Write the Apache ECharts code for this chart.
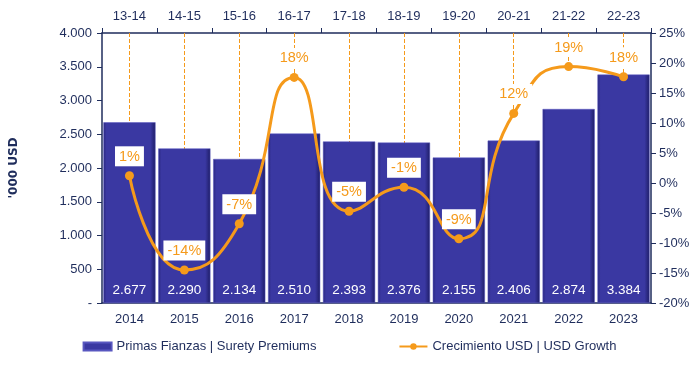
<!DOCTYPE html>
<html><head><meta charset="utf-8">
<script src="https://cdn.jsdelivr.net/npm/echarts@6/dist/echarts.min.js"></script>
<style>html,body{margin:0;padding:0;background:#fff}#c{width:699px;height:366px}</style>
</head><body><div id="c"></div>
<script>
const years = ['2014','2015','2016','2017','2018','2019','2020','2021','2022','2023'];
const periods = ['13-14','14-15','15-16','16-17','17-18','18-19','19-20','20-21','21-22','22-23'];
const premiums = [2677, 2290, 2134, 2510, 2393, 2376, 2155, 2406, 2874, 3384];
const growth = [1.2, -14.5, -6.8, 17.6, -4.7, -0.7, -9.3, 11.6, 19.4, 17.7];

const navy = '#1F2D5C';
const orange = '#F59A1B';
const font = 'Liberation Sans, Arial, sans-serif';
const fmtThousands = v => v === 0 ? '-' : String(v).replace(/\B(?=(\d{3})+(?!\d))/g, '.');

const chart = echarts.init(document.getElementById('c'));
chart.setOption({
  animation: false,
  textStyle: { fontFamily: font },
  grid: { left: 101, right: 48, top: 33, bottom: 63 },
  legend: {
    bottom: 8, left: 'center', itemGap: 82, itemWidth: 28, itemHeight: 8,
    textStyle: { color: navy, fontSize: 13, fontFamily: font },
    data: [
      { name: 'Primas Fianzas | Surety Premiums', icon: 'rect' },
      { name: 'Crecimiento USD | USD Growth' }
    ]
  },
  xAxis: [
    { type: 'category', data: years, position: 'bottom',
      axisLine: { onZero: false, lineStyle: { color: navy, width: 1.5 } },
      axisTick: { lineStyle: { color: navy }, length: 5 },
      axisLabel: { color: navy, fontSize: 13, margin: 10 } },
    { type: 'category', data: periods, position: 'top',
      axisLine: { show: true, onZero: false, lineStyle: { color: navy, width: 1.5 } },
      axisTick: { show: true, lineStyle: { color: navy }, length: 5 },
      axisLabel: { color: navy, fontSize: 13, margin: 10 } }
  ],
  yAxis: [
    { type: 'value', min: 0, max: 4000, interval: 500,
      name: "'000 USD", nameLocation: 'middle', nameGap: 82, nameRotate: 90,
      nameTextStyle: { color: navy, fontWeight: 'bold', fontSize: 12, fontFamily: 'DejaVu Sans' },
      axisLine: { show: true, lineStyle: { color: navy, width: 1.5 } },
      axisTick: { show: true, lineStyle: { color: navy }, length: 5 },
      splitLine: { show: false },
      axisLabel: { color: navy, fontSize: 13, margin: 10, formatter: fmtThousands } },
    { type: 'value', min: -20, max: 25, interval: 5, position: 'right',
      axisLine: { show: true, lineStyle: { color: navy, width: 1.5 } },
      axisTick: { show: true, lineStyle: { color: navy }, length: 5 },
      splitLine: { show: false },
      axisLabel: { color: navy, fontSize: 13, margin: 8, formatter: v => v + '%' } }
  ],
  series: [
    { name: 'Primas Fianzas | Surety Premiums', type: 'bar', data: premiums,
      xAxisIndex: 0, yAxisIndex: 0, barCategoryGap: '5%',
      itemStyle: {
        color: new echarts.graphic.LinearGradient(0, 0, 1, 0, [
          { offset: 0, color: '#2a2880' }, { offset: 0.06, color: '#3a38a2' },
          { offset: 0.9, color: '#3a38a2' }, { offset: 1, color: '#1e1d66' }
        ]),
        borderColor: '#5857c0', borderWidth: 0.5
      },
      label: { show: true, position: 'insideBottom', distance: 6, color: '#fff', fontSize: 13.5,
        formatter: p => (p.value/1000).toFixed(3) }
    },
    { name: 'Crecimiento USD | USD Growth', type: 'line', data: growth,
      xAxisIndex: 0, yAxisIndex: 1, smooth: 0.55, z: 5,
      lineStyle: { color: orange, width: 3 },
      itemStyle: { color: orange },
      symbol: 'circle', symbolSize: 9,
      label: { show: true, position: 'top', distance: 5, color: orange, fontSize: 14.5,
        backgroundColor: '#fff', padding: [3, 4, 2, 4],
        formatter: p => Math.round(p.value) + '%' },
      markLine: {
        silent: true, symbol: ['none', 'none'], z: 1,
        lineStyle: { color: orange, type: 'dashed', width: 1 },
        label: { show: false },
        data: growth.map((g, i) => [ { coord: [i, 25] }, { coord: [i, g] } ])
      }
    }
  ]
});
</script></body></html>
